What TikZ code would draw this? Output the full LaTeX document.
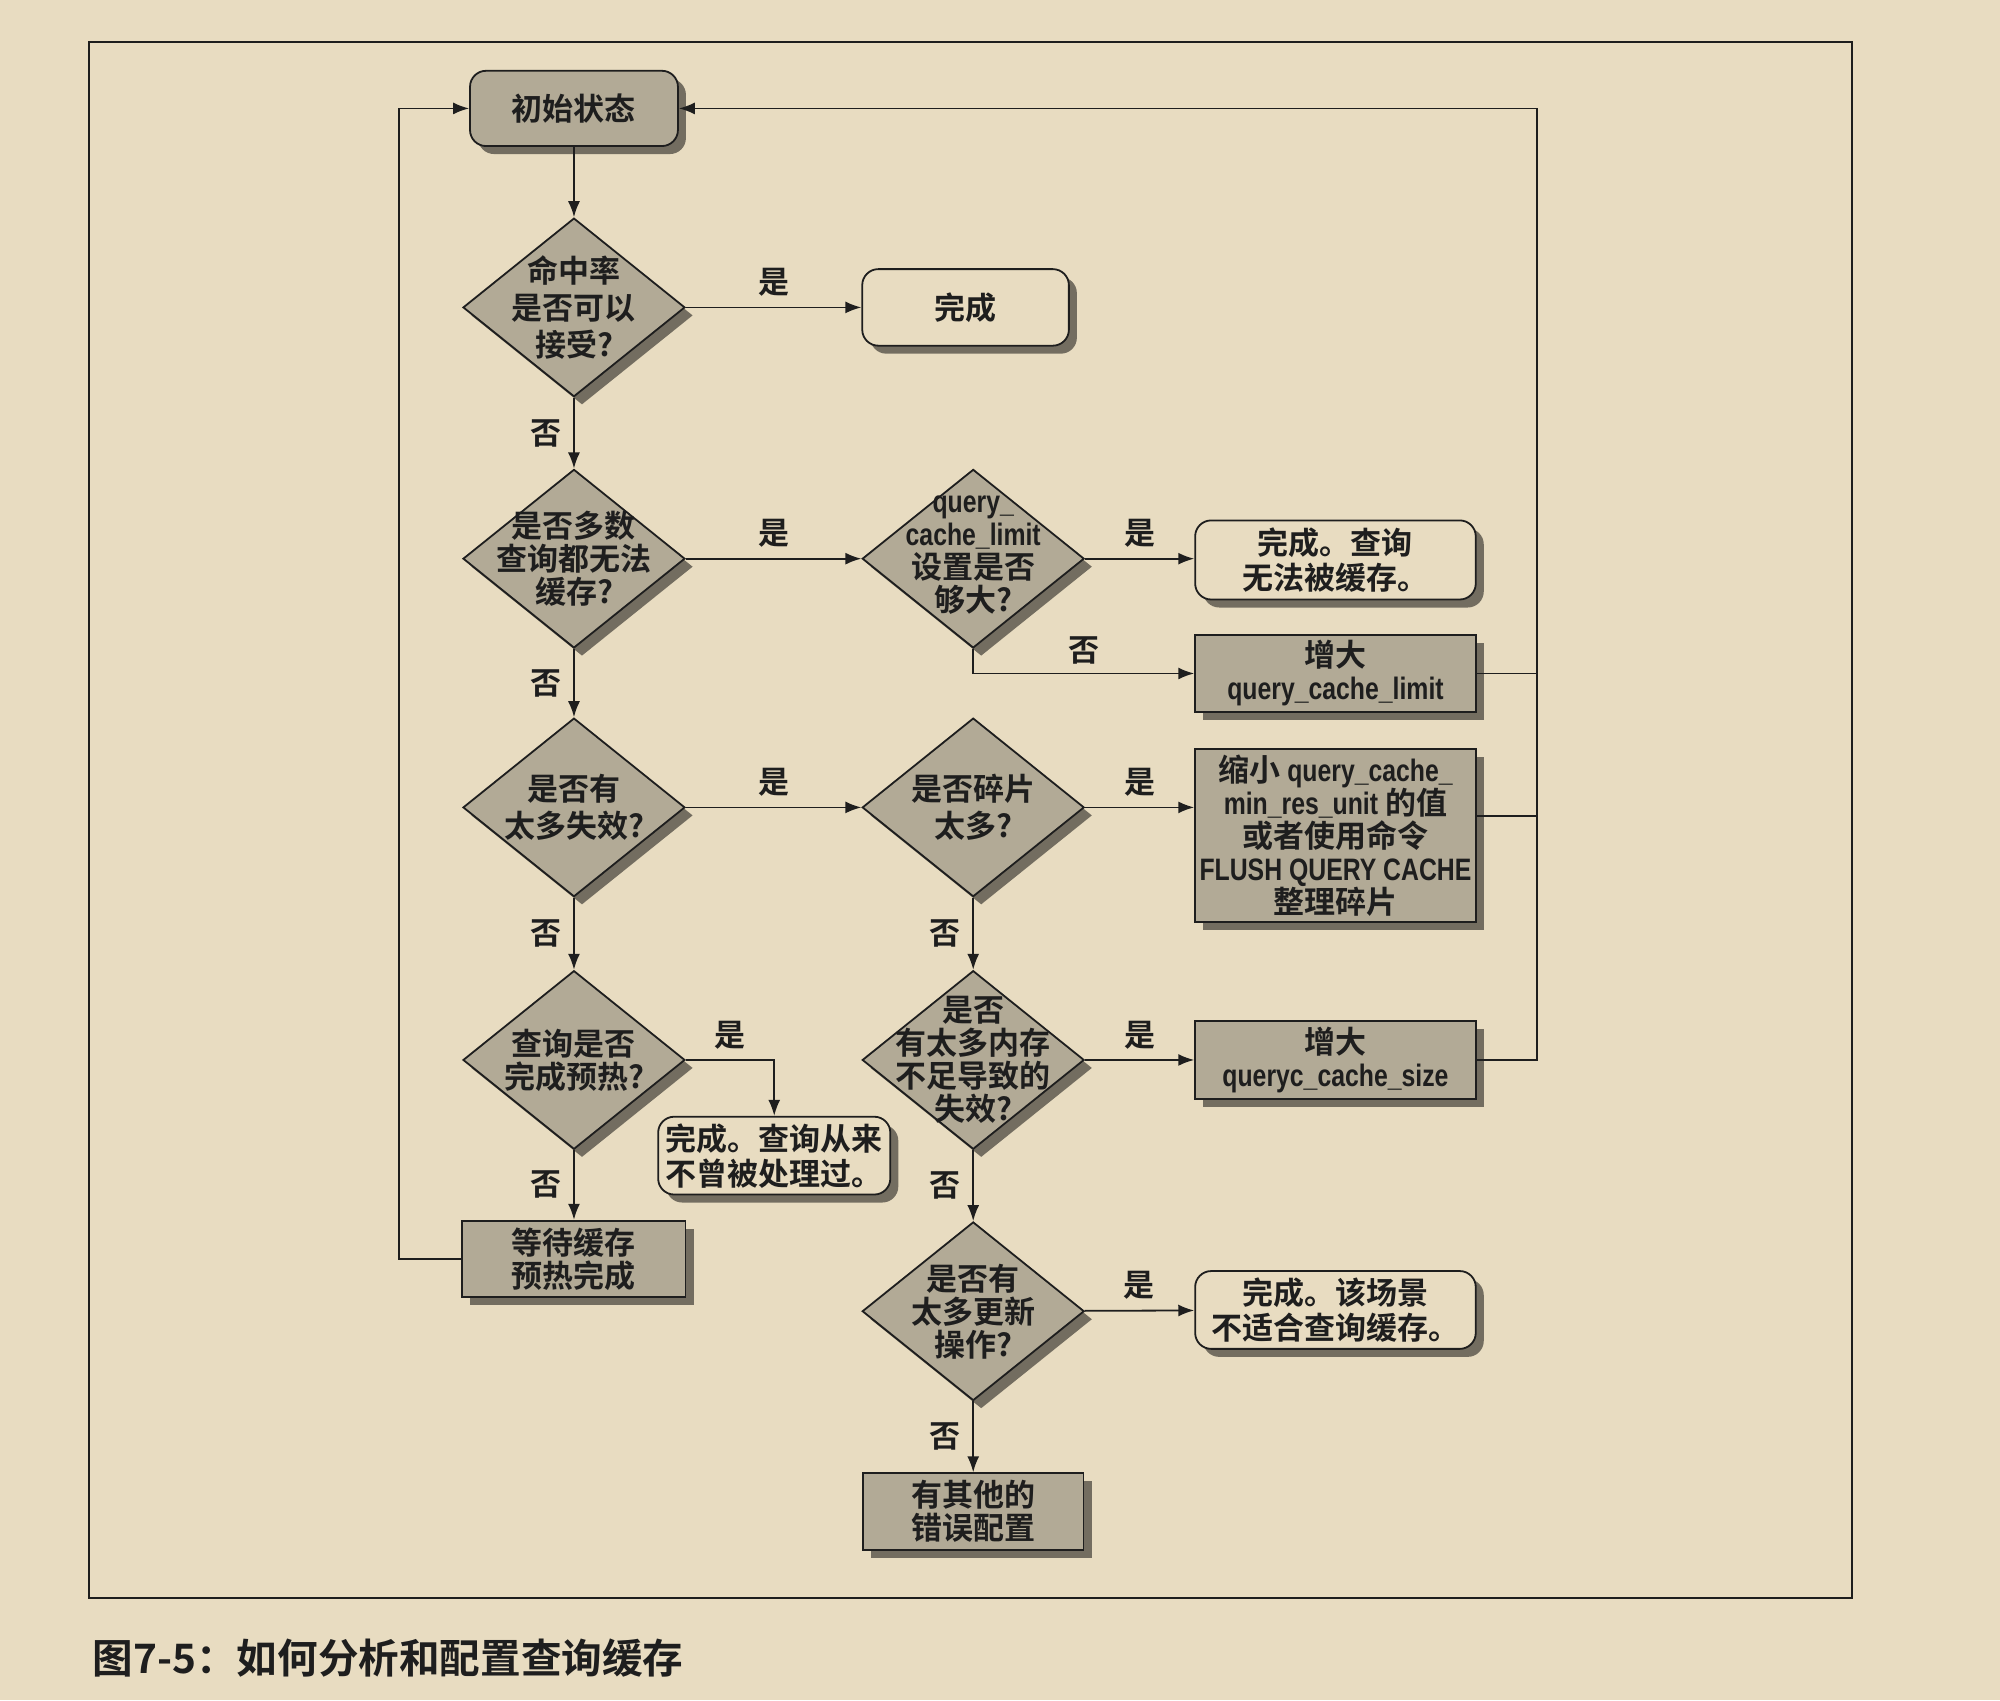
\documentclass[tikz,border=0pt]{standalone}
\usepackage{fontspec}
\setmainfont{Noto Sans CJK SC}[BoldFont={Noto Sans CJK SC Bold}]
\newfontfamily\latn{Liberation Sans}[FakeStretch=0.8]
\usetikzlibrary{shapes.geometric,shadows,arrows.meta,calc}
\definecolor{bgc}{HTML}{E8DCC1}
\definecolor{nodegray}{HTML}{B2AA96}
\definecolor{ink}{HTML}{1E1E1E}
\def\u{0.6378pt}
\begin{document}
\begin{tikzpicture}[x=0.6378pt,y=-0.6378pt,line width=0.9pt,color=ink,
  shd/.style={drop shadow={shadow xshift=4pt,shadow yshift=-4pt,fill=black,opacity=0.5}},
  dia/.style={diamond,draw,fill=nodegray,shd,minimum width=174*\u,minimum height=140*\u,inner sep=0pt},
  dtext/.style={align=center,inner sep=0pt,font=\bfseries\fontsize{15.5}{16.5}\selectfont},
  dtextw/.style={dtext,font=\bfseries\fontsize{15.5}{18.5}\selectfont},
  rbox/.style={draw,rounded corners=8pt,fill=bgc,shd,align=center,inner sep=0pt,font=\bfseries\fontsize{15.5}{17.5}\selectfont},
  gbox/.style={draw,fill=nodegray,shd,align=center,inner sep=0pt,font=\bfseries\fontsize{15.5}{16.5}\selectfont},
  lab/.style={inner sep=2pt,font=\bfseries\fontsize{15.5}{16}\selectfont},
  arr/.style={-{Latex[length=8pt,width=6pt]}}]
\useasboundingbox (0,0) rectangle (1568,1332.8);
\fill[bgc] (0,0) rectangle (1568,1332.8);
\draw[line width=1.1pt] (70,33) rectangle (1452,1253);

% nodes
\node[rbox,fill=nodegray,minimum width=163*\u,minimum height=59*\u] (init) at (450,85) {初始状态};
\node[dia] (d1) at (450,241) {};
\node[dtextw] (d1t) at (d1) {命中率\\是否可以\\接受?};
\node[rbox,minimum width=162*\u,minimum height=60*\u] (done1) at (757,241) {完成};
\node[dia] (d2) at (450,438) {};
\node[dtext] (d2t) at (d2) {是否多数\\查询都无法\\缓存?};
\node[dia] (d3) at (763,438) {};
\node[dtext] (d3t) at ($(d3)+(0,-3)$) {{\latn query\_}\\{\latn cache\_limit}\\设置是否\\够大?};
\node[rbox,minimum width=220*\u,minimum height=62*\u] (done2) at (1047,439) {完成。查询\\无法被缓存。};
\node[gbox,minimum width=220*\u,minimum height=60*\u] (inc1) at (1047,528) {增大\\{\latn query\_cache\_limit}};
\node[dia] (d4) at (450,633) {};
\node[dtextw] (d4t) at (d4) {是否有\\太多失效?};
\node[dia] (d5) at (763,633) {};
\node[dtextw] (d5t) at (d5) {是否碎片\\太多?};
\node[gbox,minimum width=220*\u,minimum height=136*\u] (shrink) at (1047,655) {缩小 {\latn query\_cache\_}\\{\latn min\_res\_unit} 的值\\或者使用命令\\{\latn FLUSH QUERY CACHE}\\整理碎片};
\node[dia] (d6) at (450,831) {};
\node[dtext] (d6t) at (d6) {查询是否\\完成预热?};
\node[rbox,minimum width=182*\u,minimum height=61*\u] (done3) at (607,906) {完成。查询从来\\不曾被处理过。};
\node[dia] (d7) at (763,831) {};
\node[dtext] (d7t) at (d7) {是否\\有太多内存\\不足导致的\\失效?};
\node[gbox,minimum width=220*\u,minimum height=61*\u] (inc2) at (1047,831) {增大\\{\latn queryc\_cache\_size}};
\node[gbox,minimum width=175*\u,minimum height=60*\u] (wait) at (450,987) {等待缓存\\预热完成};
\node[dia] (d8) at (763,1028) {};
\node[dtext] (d8t) at (d8) {是否有\\太多更新\\操作?};
\node[rbox,minimum width=220*\u,minimum height=61*\u] (done4) at (1047,1027) {完成。该场景\\不适合查询缓存。};
\node[gbox,minimum width=173*\u,minimum height=60*\u] (other) at (763,1185) {有其他的\\错误配置};

\node[anchor=west,inner sep=0pt,font=\bfseries\fontsize{20.3}{21}\selectfont] (cap) at (72,1300) {图7-5：如何分析和配置查询缓存};

% connectors
\draw[arr] (init) -- (d1);
\draw[arr] (d1) -- node[lab,above=3pt]{是} (done1);
\draw[arr] (d1) -- node[lab,left=4pt]{否} (d2);
\draw[arr] (d2) -- node[lab,above=3pt]{是} (d3);
\draw[arr] (d2) -- node[lab,left=4pt]{否} (d4);
\draw[arr] (d3.east) -- node[lab,above=3pt]{是} (d3.east -| done2.west);
\draw[arr] (d3.south) |- node[lab,above=2pt,pos=0.75]{否} (inc1.west);
\draw[arr] (d4) -- node[lab,above=3pt]{是} (d5);
\draw[arr] (d4) -- node[lab,left=4pt]{否} (d6);
\draw[arr] (d5.east) -- node[lab,above=3pt]{是} (d5.east -| shrink.west);
\draw[arr] (d5) -- node[lab,left=4pt]{否} (d7);
\draw[arr] (d6.east) -| node[lab,above=3pt,pos=0.25]{是} (done3.north);
\draw[arr] (d6) -- node[lab,left=4pt]{否} (wait);
\draw[arr] (d7) -- node[lab,above=3pt]{是} (inc2);
\draw[arr] (d7) -- node[lab,left=4pt]{否} (d8);
\draw[arr] (d8) -- node[lab,above=3pt]{是} (done4);
\draw[arr] (d8) -- node[lab,left=4pt]{否} (other);

\coordinate (lx) at (313,987);
\draw[arr] (wait.west) -- (lx) |- (init.west);
\coordinate (rx) at (1205,85);
\coordinate (sh) at ($(shrink.east)+(0,-15)$);
\draw[arr] (inc2.east) -- (inc2.east -| rx) -- (rx) -- (init.east);
\draw (inc1.east) -- (inc1.east -| rx);
\draw (sh) -- (sh -| rx);
\end{tikzpicture}
\end{document}
